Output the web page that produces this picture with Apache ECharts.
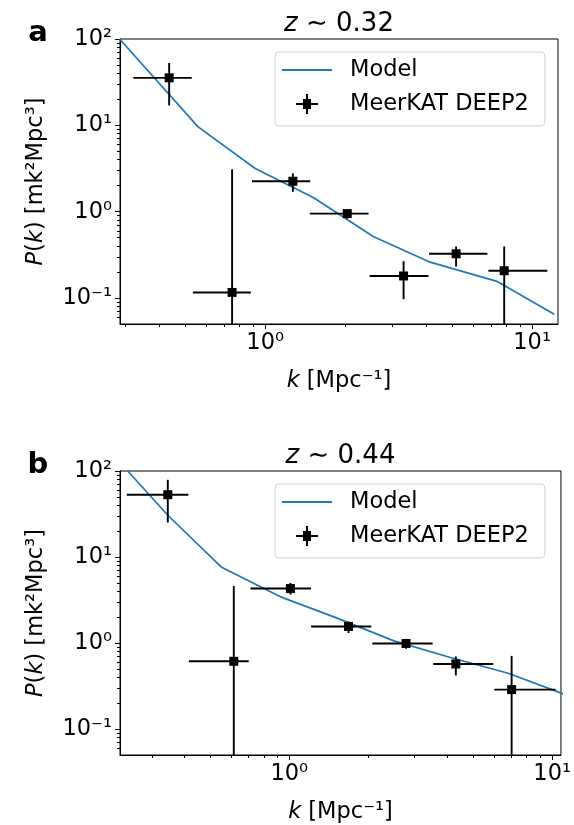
<!DOCTYPE html>
<html>
<head>
<meta charset="utf-8">
<script src="https://cdn.jsdelivr.net/npm/echarts@6/dist/echarts.min.js"></script>
<style>
html,body{margin:0;padding:0;background:#fff;}
#chart{width:574px;height:825px;}
</style>
</head>
<body>
<div id="chart"></div>
<script>
// ---------- Data ----------
// Panel a : z ~ 0.32
const kA    = [0.437, 0.752, 1.27, 2.03, 3.30, 5.19, 7.86];
const pA    = [35.5, 0.116, 2.25, 0.95, 0.18, 0.325, 0.207];
const kLoA  = [0.321, 0.536, 0.893, 1.47, 2.46, 4.11, 6.86];
const kHiA  = [0.531, 0.884, 1.475, 2.44, 4.09, 6.80, 11.4];
const pLoA  = [17.0, null, 1.70, 0.83, 0.097, 0.231, null];
const pHiA  = [52.8, 3.1, 2.77, 1.05, 0.267, 0.395, 0.395];
const kModelA = [0.285, 0.561, 0.918, 1.52, 2.54, 4.15, 7.38, 12.1];
const pModelA = [100, 9.6, 3.16, 1.45, 0.516, 0.26, 0.156, 0.065];

// Panel b : z ~ 0.44
const kB    = [0.345, 0.615, 1.01, 1.68, 2.78, 4.30, 7.01];
const pB    = [53, 0.614, 4.3, 1.56, 0.99, 0.571, 0.288];
const kLoB  = [0.241, 0.415, 0.712, 1.21, 2.07, 3.53, 6.02];
const kHiB  = [0.413, 0.701, 1.21, 2.05, 3.51, 5.97, 10.3];
const pLoB  = [25.2, null, 3.66, 1.31, 0.86, 0.42, null];
const pHiB  = [79, 4.6, 5.0, 1.78, 1.09, 0.70, 0.71];
const kModelB = [0.243, 0.345, 0.553, 0.922, 1.52, 2.5, 4.1, 6.8, 11.2];
const pModelB = [100, 30.6, 7.6, 3.47, 1.95, 1.06, 0.68, 0.446, 0.252];

// Axes ranges and tick labels
const xRangeA = [0.286, 12.5];
const xRangeB = [0.227, 10.8];
const yRange  = [0.05, 100];
const xMajorTicks = [1, 10];
const yMajorTicks = [0.1, 1, 10, 100];
const titles = ['0.32', '0.44'];
const panelLabels = ['a', 'b'];
const seriesNames = ['Model', 'MeerKAT DEEP2'];

// ---------- Helpers ----------
const FONT = 'DejaVu Sans';
const FS = 22.5;
const SUP = {'0':'⁰','1':'¹','2':'²','3':'³','4':'⁴','5':'⁵','6':'⁶','7':'⁷','8':'⁸','9':'⁹','-':'⁻'};
function logFmt(v) {
  const e = Math.log10(v), r = Math.round(e);
  if (Math.abs(e - r) > 1e-6) return '';
  return '10' + String(r).split('').map(c => SUP[c]).join('');
}
function minorValues(lo, hi) {
  const out = [];
  for (let d = -3; d <= 3; d++) {
    for (let m = 2; m <= 9; m++) {
      const v = m * Math.pow(10, d);
      if (v > lo * 1.0001 && v < hi * 0.9999) out.push(v);
    }
  }
  return out;
}
function zip(...arrs) { return arrs[0].map((_, i) => arrs.map(a => a[i])); }

const gridsPx = [
  {left: 120, top: 39, width: 438, height: 285},
  {left: 120, top: 471, width: 441, height: 285}
];
const xRanges = [xRangeA, xRangeB];

const nameStyle = {fontFamily: FONT, fontSize: FS, color: '#000',
  rich: {it: {fontStyle: 'italic', fontFamily: FONT, fontSize: FS, color: '#000'}}};

function xAxisCfg(i) {
  return {
    type: 'log', gridIndex: i, position: 'bottom', min: xRanges[i][0], max: xRanges[i][1],
    axisLine: {show: true, lineStyle: {color: '#000', width: 1}},
    axisTick: {show: true, inside: false, length: 5, customValues: xMajorTicks, lineStyle: {color: '#000', width: 1}},
    axisLabel: {customValues: xMajorTicks, formatter: logFmt, fontFamily: FONT, fontSize: FS, color: '#000', margin: 8},
    splitLine: {show: false}, minorTick: {show: false},
    name: '{it|k} [Mpc⁻¹]', nameLocation: 'middle', nameGap: 46, nameTextStyle: nameStyle
  };
}
function xMinorAxisCfg(i) {
  return {
    type: 'log', gridIndex: i, position: 'bottom', offset: 0, min: xRanges[i][0], max: xRanges[i][1],
    axisLine: {show: false},
    axisTick: {show: true, inside: false, length: 3, customValues: minorValues(xRanges[i][0], xRanges[i][1]), lineStyle: {color: '#000', width: 1}},
    axisLabel: {show: false}, splitLine: {show: false}, minorTick: {show: false}
  };
}
function yAxisCfg(i) {
  return {
    type: 'log', gridIndex: i, position: 'left', min: yRange[0], max: yRange[1],
    axisLine: {show: true, lineStyle: {color: '#000', width: 1}},
    axisTick: {show: true, inside: false, length: 5, customValues: yMajorTicks, lineStyle: {color: '#000', width: 1}},
    axisLabel: {customValues: yMajorTicks, formatter: logFmt, fontFamily: FONT, fontSize: FS, color: '#000', margin: 8},
    splitLine: {show: false}, minorTick: {show: false},
    name: '{it|P}({it|k}) [mk²Mpc³]', nameLocation: 'middle', nameGap: 72, nameRotate: 90, nameTextStyle: nameStyle
  };
}
function yMinorAxisCfg(i) {
  return {
    type: 'log', gridIndex: i, position: 'left', offset: 0, min: yRange[0], max: yRange[1],
    axisLine: {show: false},
    axisTick: {show: true, inside: false, length: 3, customValues: minorValues(yRange[0], yRange[1]), lineStyle: {color: '#000', width: 1}},
    axisLabel: {show: false}, splitLine: {show: false}, minorTick: {show: false}
  };
}

function errorbarRender(params, api) {
  const k = api.value(0), p = api.value(1), kl = api.value(2), kh = api.value(3);
  const pl = api.value(4), ph = api.value(5);
  const c = api.coord([k, p]);
  const xl = api.coord([kl, p])[0], xh = api.coord([kh, p])[0];
  const bottom = api.coord([k, yRange[0]])[1];
  const yTop = api.coord([k, ph])[1];
  const yBot = (pl === null || isNaN(pl) || pl <= yRange[0]) ? bottom : api.coord([k, pl])[1];
  const s = 9;
  return {
    type: 'group',
    children: [
      {type: 'line', shape: {x1: xl, y1: c[1], x2: xh, y2: c[1]}, style: {stroke: '#000', lineWidth: 1.9}},
      {type: 'line', shape: {x1: c[0], y1: yTop, x2: c[0], y2: yBot}, style: {stroke: '#000', lineWidth: 1.9}},
      {type: 'rect', shape: {x: c[0] - s / 2, y: c[1] - s / 2, width: s, height: s}, style: {fill: '#000'}}
    ]
  };
}

const panels = [
  {k: kA, p: pA, kl: kLoA, kh: kHiA, pl: pLoA, ph: pHiA, mk: kModelA, mp: pModelA},
  {k: kB, p: pB, kl: kLoB, kh: kHiB, pl: pLoB, ph: pHiB, mk: kModelB, mp: pModelB}
];

const series = [];
panels.forEach((d, i) => {
  series.push({
    name: seriesNames[0], type: 'line', xAxisIndex: i, yAxisIndex: i,
    data: zip(d.mk, d.mp), showSymbol: false, symbol: 'none', clip: true,
    lineStyle: {color: '#1f77b4', width: 1.7}, itemStyle: {color: '#1f77b4'}, z: 2, silent: true
  });
  series.push({
    name: seriesNames[1], type: 'custom', xAxisIndex: i, yAxisIndex: i,
    data: zip(d.k, d.p, d.kl, d.kh, d.pl.map(v => v === null ? NaN : v), d.ph),
    encode: {x: 0, y: 1}, renderItem: errorbarRender, itemStyle: {color: '#000'}, z: 3, silent: true
  });
});

const legendIcons = [
  'path://M0,9h50v2h-50z',
  'path://M14,9h7v-4h3v-5h2v5h3v4h7v2h-7v4h-3v5h-2v-5h-3v-4h-7z'
];
function legendCfg(i) {
  const g = gridsPx[i];
  return {
    orient: 'vertical', left: 275, top: g.top + 13,
    data: seriesNames.map((n, j) => ({name: n, icon: legendIcons[j]})),
    itemWidth: 50, itemHeight: 20, itemGap: 10, symbolKeepAspect: true,
    padding: [6, 16, 10, 7],
    backgroundColor: 'rgba(255,255,255,0.8)', borderColor: '#d0d0d0', borderWidth: 1, borderRadius: 4,
    textStyle: {fontFamily: FONT, fontSize: FS, color: '#000', padding: [0, 0, 0, 13], lineHeight: 24},
    selectedMode: false
  };
}

const graphic = [];
panels.forEach((d, i) => {
  const g = gridsPx[i];
  graphic.push({
    type: 'text', x: g.left + g.width / 2, y: g.top - 15, silent: true,
    style: {text: '{it|z} ∼ ' + titles[i], fontFamily: FONT, fontSize: 26, fill: '#000',
      align: 'center', verticalAlign: 'middle', textAlign: 'center', textVerticalAlign: 'middle',
      rich: {it: {fontStyle: 'italic', fontFamily: FONT, fontSize: 26, fill: '#000'}}}
  });
  graphic.push({
    type: 'text', x: 38, y: g.top - 6, silent: true,
    style: {text: panelLabels[i], fontFamily: FONT, fontSize: 29, fontWeight: 'bold', fill: '#000',
      align: 'center', verticalAlign: 'middle', textAlign: 'center', textVerticalAlign: 'middle'}
  });
});

const option = {
  animation: false,
  backgroundColor: '#fff',
  grid: gridsPx.map(g => Object.assign({show: true, borderColor: '#000', borderWidth: 1, backgroundColor: 'transparent', containLabel: false}, g)),
  xAxis: [xAxisCfg(0), xAxisCfg(1), xMinorAxisCfg(0), xMinorAxisCfg(1)],
  yAxis: [yAxisCfg(0), yAxisCfg(1), yMinorAxisCfg(0), yMinorAxisCfg(1)],
  legend: [legendCfg(0), legendCfg(1)],
  series: series,
  graphic: graphic
};

const chart = echarts.init(document.getElementById('chart'), null, {renderer: 'canvas'});
chart.setOption(option);
</script>
</body>
</html>
